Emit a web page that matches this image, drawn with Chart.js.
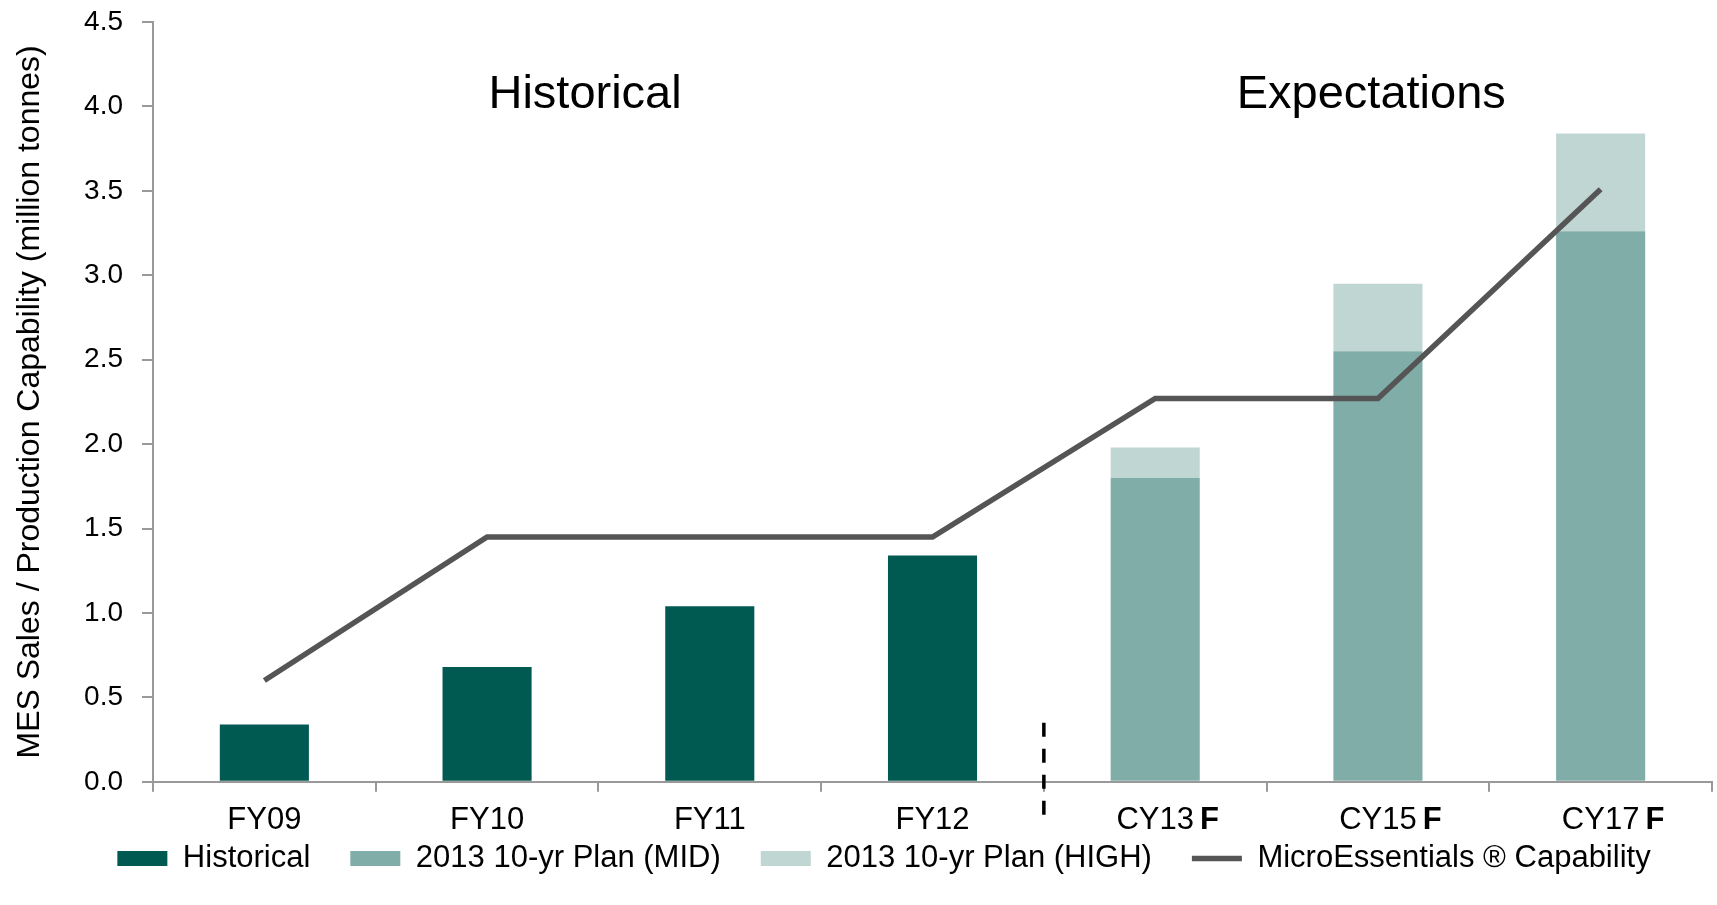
<!DOCTYPE html>
<html>
<head>
<meta charset="utf-8">
<title>MES Sales / Production Capability</title>
<script src="https://cdn.jsdelivr.net/npm/chart.js@4.4.1/dist/chart.umd.min.js"></script>
<style>
    html, body { margin: 0; padding: 0; background: #fff; }
    #wrap { width: 1717px; height: 905px; }
</style>
</head>
<body>
<div id="wrap"><canvas id="graficoMES"></canvas></div>
<script>
// datos
const categorias = ['FY09', 'FY10', 'FY11', 'FY12', 'CY13', 'CY15', 'CY17'];
const esPronostico = [false, false, false, false, true, true, true];
const historico = [0.34, 0.68, 1.04, 1.34, null, null, null];
const planMid = [null, null, null, null, 1.80, 2.55, 3.26];
const planHighExtra = [null, null, null, null, 0.18, 0.40, 0.58];
const capacidad = [0.60, 1.45, 1.45, 1.45, 2.27, 2.27, 3.51];
const ticksY = [0, 0.5, 1.0, 1.5, 2.0, 2.5, 3.0, 3.5, 4.0, 4.5];

// textos de seccion: [texto, posicion en x (indice), posicion en y (valor)]
const secciones = [
    ['Historical', 1.44, 4.07],
    ['Expectations', 4.97, 4.07]
];

const FUENTE = "'Liberation Sans', Arial, Helvetica, sans-serif";
Chart.defaults.font.family = FUENTE;
Chart.defaults.color = '#000';

const X_TICK_LEN = 10, X_TICK_PAD = 10, X_FONT = 31;
const SUBIR_LEYENDA = 46, CORRER_LEYENDA = 28;

// la leyenda necesita mucho espacio horizontal entre items; se acomoda despues del layout
// (solo se sube el borde de arriba para que el recorte de la leyenda no corte el texto)
const moverLeyenda = {
    id: 'moverLeyenda',
    afterLayout(chart) {
        const ley = chart.legend;
        if (!ley) return;
        ley.top -= SUBIR_LEYENDA;
        ley.left += CORRER_LEYENDA;
        ley.right += CORRER_LEYENDA;
    }
};

// textos grandes, la linea punteada y la F en negrita
const extras = {
    id: 'extras',
    afterDatasetsDraw(chart) {
        const { ctx, scales: { x, y } } = chart;
        ctx.save();

        // separador entre historico y pronostico
        const xSep = (x.getPixelForValue(3) + x.getPixelForValue(4)) / 2;
        ctx.strokeStyle = '#000';
        ctx.lineWidth = 3.5;
        ctx.setLineDash([14, 12]);
        ctx.beginPath();
        ctx.moveTo(xSep, y.getPixelForValue(0.35));
        ctx.lineTo(xSep, y.getPixelForValue(0) + 36);
        ctx.stroke();
        ctx.setLineDash([]);

        ctx.fillStyle = '#000';
        ctx.textAlign = 'center';
        ctx.textBaseline = 'middle';
        ctx.font = `47px ${FUENTE}`;
        secciones.forEach(([texto, vx, vy]) => {
            ctx.fillText(texto, x.getPixelForValue(vx), y.getPixelForValue(vy));
        });

        // "F" de forecast junto a la etiqueta
        const yLabel = x.top + X_TICK_LEN + X_TICK_PAD + X_FONT * 1.2 / 2;
        categorias.forEach((cat, i) => {
            if (!esPronostico[i]) return;
            ctx.font = `${X_FONT}px ${FUENTE}`;
            const mitad = ctx.measureText(cat).width / 2;
            ctx.font = `bold ${X_FONT}px ${FUENTE}`;
            ctx.textAlign = 'left';
            ctx.fillText('F', x.getPixelForValue(i) + mitad + 6, yLabel);
        });
        ctx.restore();
    }
};

const ctx = document.getElementById('graficoMES').getContext('2d');
new Chart(ctx, {
    type: 'bar',
    data: {
        labels: categorias,
        datasets: [
            { label: 'Historical', data: historico, backgroundColor: '#005A52', order: 1 },
            { label: '2013 10-yr Plan (MID)', data: planMid, backgroundColor: '#80ADA8', order: 1 },
            { label: '2013 10-yr Plan (HIGH)', data: planHighExtra, backgroundColor: '#C0D6D3', order: 1 },
            {
                type: 'line', label: 'MicroEssentials ® Capability', data: capacidad,
                borderColor: '#555555', backgroundColor: '#555555', borderWidth: 5.5,
                pointRadius: 0, tension: 0, stack: 'capacidad', order: 0
            }
        ]
    },
    options: {
        responsive: true,
        maintainAspectRatio: false,
        animation: false,
        barPercentage: 0.4,
        categoryPercentage: 1,
        borderWidth: 0,
        layout: { padding: { top: 22, right: 5, bottom: 0, left: 0 } },
        plugins: {
            tooltip: { enabled: false },
            legend: {
                position: 'bottom',
                maxHeight: 56,
                labels: {
                    usePointStyle: true,
                    pointStyleWidth: 50,
                    boxHeight: 15,
                    padding: 40,
                    color: '#000',
                    font: { size: 31 },
                    sort: (a, b) => a.datasetIndex - b.datasetIndex,
                    generateLabels: (chart) => Chart.defaults.plugins.legend.labels.generateLabels(chart).map(item => {
                        item.pointStyle = chart.data.datasets[item.datasetIndex].type === 'line' ? 'line' : 'rect';
                        return item;
                    })
                }
            }
        },
        scales: {
            x: {
                stacked: true,
                grid: { drawOnChartArea: false, tickLength: X_TICK_LEN, color: '#999', lineWidth: 2 },
                border: { color: '#999', width: 2 },
                ticks: { font: { size: X_FONT }, padding: X_TICK_PAD, maxRotation: 0, autoSkip: false }
            },
            y: {
                stacked: true,
                min: 0,
                max: 4.5,
                afterBuildTicks: (scale) => { scale.ticks = ticksY.map(v => ({ value: v })); },
                afterFit: (scale) => { scale.width = 153; },
                // marca de 10px pegada al eje, el resto del largo queda como separacion del texto
                grid: {
                    drawOnChartArea: false, tickLength: 30, color: '#999', lineWidth: 2,
                    tickBorderDash: [10, 19], tickBorderDashOffset: 10
                },
                border: { color: '#999', width: 2 },
                ticks: { font: { size: 28 }, padding: 0, callback: (v) => Number(v).toFixed(1) },
                title: {
                    display: true,
                    text: 'MES Sales / Production Capability (million tonnes)',
                    font: { size: 32 },
                    padding: { top: 11, bottom: 0 }
                }
            }
        }
    },
    plugins: [moverLeyenda, extras]
});
</script>
</body>
</html>
